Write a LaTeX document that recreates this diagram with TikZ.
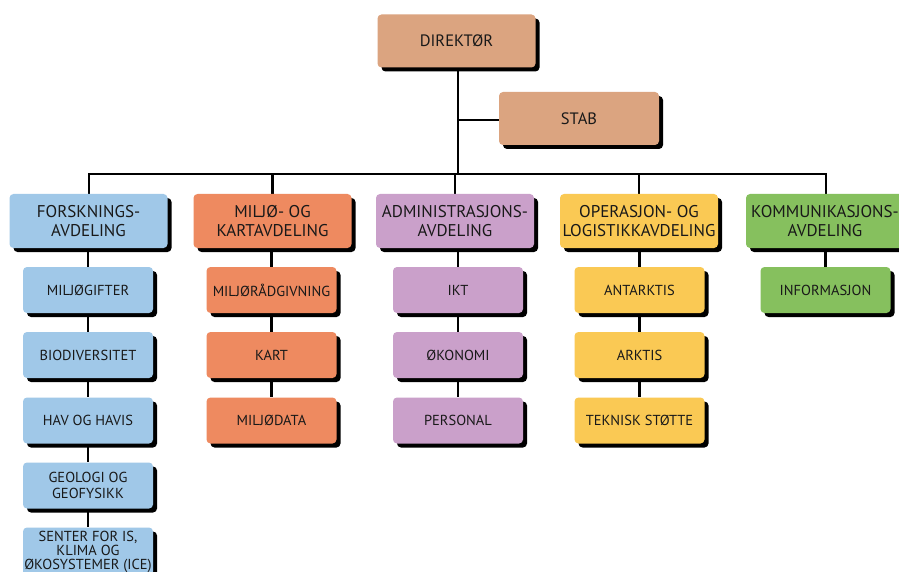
\documentclass[tikz,border=0pt]{standalone}
\usepackage{fontspec}
\setmainfont{PT Sans}
\usetikzlibrary{shadows}
\pgfdeclarelayer{bg}
\pgfsetlayers{bg,main}
\definecolor{cdir}{RGB}{219,164,128}
\definecolor{cblue}{RGB}{160,200,232}
\definecolor{corange}{RGB}{238,138,96}
\definecolor{cpurple}{RGB}{202,160,202}
\definecolor{cyellow}{RGB}{250,201,84}
\definecolor{cgreen}{RGB}{134,192,94}
\tikzset{
  box/.style={rectangle, rounded corners=4pt, inner sep=0pt, align=center,
    text=black!90, drop shadow={shadow xshift=4pt, shadow yshift=-4pt, fill=black, opacity=1}},
  topbox/.style={box, minimum width=158pt, minimum height=53pt, font=\fontsize{16.5}{18.5}\selectfont},
  deptbox/.style={box, minimum width=158pt, minimum height=54pt, font=\fontsize{17}{18.5}\selectfont},
  subbox/.style={box, minimum width=130pt, minimum height=46pt, font=\fontsize{14.5}{16.5}\selectfont},
  link/.style={line width=2.8pt, black}
}
\begin{document}
\begin{tikzpicture}[x=1pt,y=-1pt]
\useasboundingbox (0,0) rectangle (899,572);
\clip (0,0) rectangle (899,572);
\begin{pgfonlayer}{bg}
\fill[white] (0,0) rectangle (899,572);
\end{pgfonlayer}
\coordinate (busL) at (89,174);
\coordinate (busR) at (826,174);
\coordinate (busM) at (458,174);
\coordinate (stabJ) at (458,120);
% top
\node[topbox, fill=cdir] (dir) at (456.5,41) {DIREKTØR};
\node[topbox, fill=cdir, minimum width=160pt] (stab) at (579,118.5) {STAB};
% departments
\node[deptbox, fill=cblue] (d1) at (88.5,221) {FORSKNINGS-\\AVDELING};
\node[deptbox, fill=corange] (d2) at (272.5,221) {MILJØ- OG\\KARTAVDELING};
\node[deptbox, fill=cpurple] (d3) at (455,221) {ADMINISTRASJONS-\\AVDELING};
\node[deptbox, fill=cyellow] (d4) at (639,221) {OPERASJON- OG\\LOGISTIKKAVDELING};
\node[deptbox, fill=cgreen] (d5) at (825,221) {KOMMUNIKASJONS-\\AVDELING};
% sub units
\node[subbox, fill=cblue] (a1) at (88,290) {MILJØGIFTER};
\node[subbox, fill=cblue] (a2) at (88,355) {BIODIVERSITET};
\node[subbox, fill=cblue] (a3) at (88,420.5) {HAV OG HAVIS};
\node[subbox, fill=cblue] (a4) at (88,485.5) {GEOLOGI OG\\GEOFYSIKK};
\node[subbox, fill=cblue, font=\fontsize{14.5}{14}\selectfont, minimum height=48pt] (a5) at (88,551.5) {SENTER FOR IS,\\KLIMA OG\\ØKOSYSTEMER (ICE)};
\node[subbox, fill=corange] (b1) at (271.5,290) {MILJØRÅDGIVNING};
\node[subbox, fill=corange] (b2) at (271.5,355) {KART};
\node[subbox, fill=corange] (b3) at (271.5,420.5) {MILJØDATA};
\node[subbox, fill=cpurple] (c1) at (458,290) {IKT};
\node[subbox, fill=cpurple] (c2) at (458,355) {ØKONOMI};
\node[subbox, fill=cpurple] (c3) at (458,420.5) {PERSONAL};
\node[subbox, fill=cyellow] (e1) at (639.5,290) {ANTARKTIS};
\node[subbox, fill=cyellow] (e2) at (639.5,355) {ARKTIS};
\node[subbox, fill=cyellow] (e3) at (639.5,420.5) {TEKNISK STØTTE};
\node[subbox, fill=cgreen] (f1) at (825.5,290) {INFORMASJON};
% connectors (behind the boxes)
\begin{pgfonlayer}{bg}
\draw[link] (dir.south -| busM) -- (busM);
\draw[link] (stabJ) -- (stab.west |- stabJ);
\draw[link, line cap=rect] (d1.north -| busL) -- (busL) -- (busR) -- (d5.north -| busR);
\draw[link] (busM -| d2.north) -- (d2.north);
\draw[link] (busM -| d3.north) -- (d3.north);
\draw[link] (busM -| d4.north) -- (d4.north);
\draw[link] (d1.south -| a1.north) -- (a1.north);
\draw[link] (a1.south) -- (a2.north) (a2.south) -- (a3.north) (a3.south) -- (a4.north) (a4.south) -- (a5.north);
\draw[link] (d2.south -| b1.north) -- (b1.north);
\draw[link] (b1.south) -- (b2.north) (b2.south) -- (b3.north);
\draw[link] (d3.south -| c1.north) -- (c1.north);
\draw[link] (c1.south) -- (c2.north) (c2.south) -- (c3.north);
\draw[link] (d4.south -| e1.north) -- (e1.north);
\draw[link] (e1.south) -- (e2.north) (e2.south) -- (e3.north);
\draw[link] (d5.south -| f1.north) -- (f1.north);
\end{pgfonlayer}
\end{tikzpicture}
\end{document}
